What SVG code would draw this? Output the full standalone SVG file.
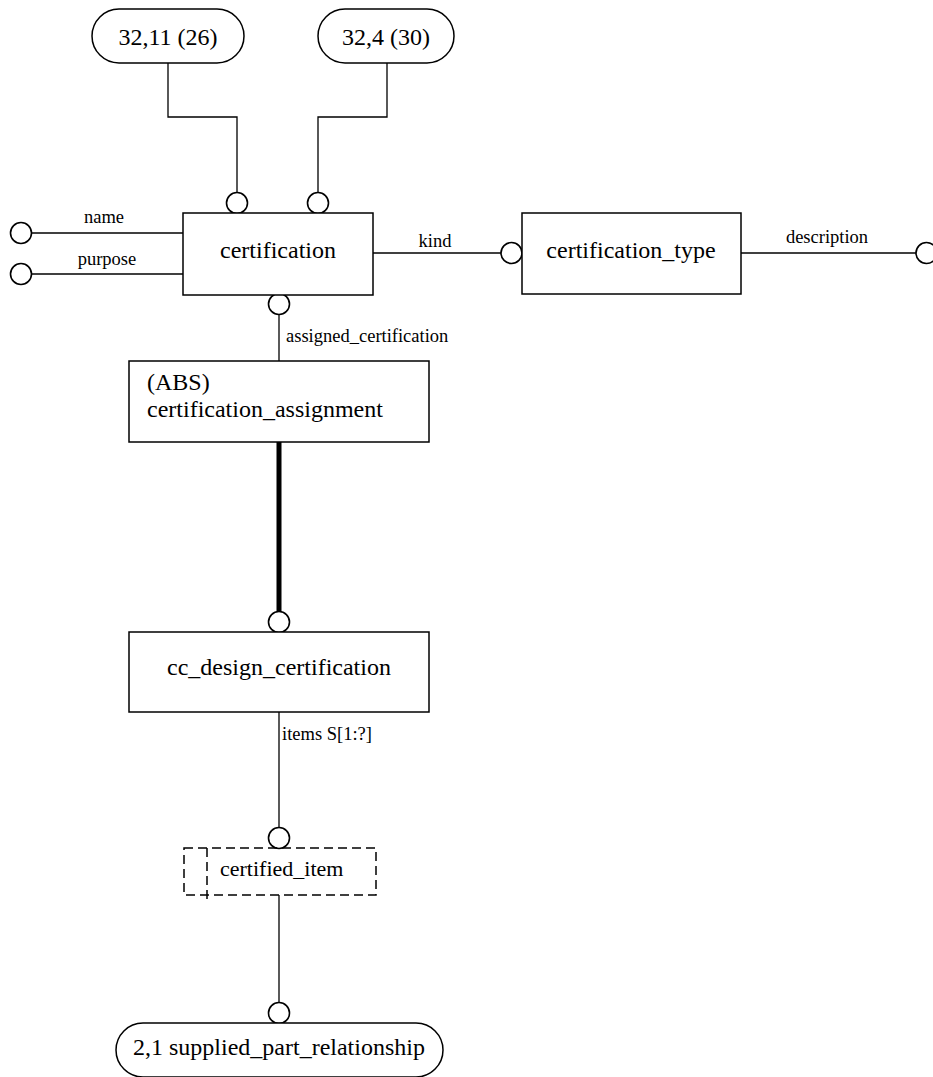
<svg xmlns="http://www.w3.org/2000/svg" width="933" height="1077" viewBox="0 0 933 1077">
<style>
.box{fill:#fff;stroke:#000;stroke-width:1.5}
.dash{fill:none;stroke:#000;stroke-width:1.5;stroke-dasharray:9,5}
.ln{fill:none;stroke:#000;stroke-width:1.3}
.thick{fill:none;stroke:#000;stroke-width:5}
.circ{fill:#fff;stroke:#000;stroke-width:1.6}
.t{font-family:"Liberation Serif","Times New Roman",serif;font-size:24px;fill:#000}
.s{font-family:"Liberation Serif","Times New Roman",serif;font-size:18.5px;fill:#000}
.m{text-anchor:middle}
</style>
<rect width="933" height="1077" fill="#fff"/>
<g id="connectors">
<polyline class="ln" points="168,63 168,117 237,117 237,193"/>
<polyline class="ln" points="387,63 387,117 318,117 318,193"/>
<line class="ln" x1="32" y1="233" x2="183" y2="233"/>
<line class="ln" x1="32" y1="274" x2="183" y2="274"/>
<line class="ln" x1="373" y1="253" x2="501" y2="253"/>
<line class="ln" x1="741" y1="253" x2="916" y2="253"/>
<line class="ln" x1="279" y1="315" x2="279" y2="361"/>
<line class="thick" x1="279" y1="442" x2="279" y2="612"/>
<line class="ln" x1="279" y1="712" x2="279" y2="828"/>
<line class="ln" x1="279" y1="895" x2="279" y2="1002"/>
<circle class="circ" cx="237" cy="203" r="10.5"/>
<circle class="circ" cx="318" cy="203" r="10.5"/>
<circle class="circ" cx="21" cy="233" r="10.5"/>
<circle class="circ" cx="21" cy="274" r="10.5"/>
<circle class="circ" cx="511.5" cy="253" r="10.5"/>
<circle class="circ" cx="926.5" cy="253" r="10.5"/>
<circle class="circ" cx="279" cy="304" r="10.5"/>
<circle class="circ" cx="279" cy="622" r="10.5"/>
<circle class="circ" cx="279" cy="838" r="10.5"/>
<circle class="circ" cx="279" cy="1013" r="10.5"/>
<text class="s m" x="104" y="223">name</text>
<text class="s m" x="107" y="265">purpose</text>
<text class="s m" x="435" y="247">kind</text>
<text class="s m" x="827" y="243">description</text>
<text class="s" x="286" y="342">assigned_certification</text>
<text class="s" x="282" y="740">items S[1:?]</text>
</g>
<g id="ref_32_11">
<rect class="box" x="92" y="9" width="152" height="54" rx="27"/>
<text class="t m" x="168" y="45">32,11 (26)</text>
</g>
<g id="ref_32_4">
<rect class="box" x="318" y="9" width="136" height="54" rx="27"/>
<text class="t m" x="386" y="45">32,4 (30)</text>
</g>
<g id="certification">
<rect class="box" x="183" y="213" width="190" height="82"/>
<text class="t m" x="278" y="258">certification</text>
</g>
<g id="certification_type">
<rect class="box" x="522" y="213" width="219" height="81"/>
<text class="t m" x="631" y="258">certification_type</text>
</g>
<g id="certification_assignment">
<rect class="box" x="129" y="361" width="300" height="81"/>
<text class="t" x="147" y="390">(ABS)</text>
<text class="t" x="147" y="417">certification_assignment</text>
</g>
<g id="cc_design_certification">
<rect class="box" x="129" y="632" width="300" height="80"/>
<text class="t m" x="279" y="675">cc_design_certification</text>
</g>
<g id="certified_item">
<rect class="dash" x="184" y="848" width="192" height="47"/>
<line class="dash" x1="207" y1="848" x2="207" y2="902"/>
<text class="t" x="220" y="876" style="font-size:22px">certified_item</text>
</g>
<g id="supplied_part_relationship">
<rect class="box" x="116" y="1023" width="327" height="54" rx="27"/>
<text class="t m" x="279" y="1055">2,1 supplied_part_relationship</text>
</g>
</svg>
